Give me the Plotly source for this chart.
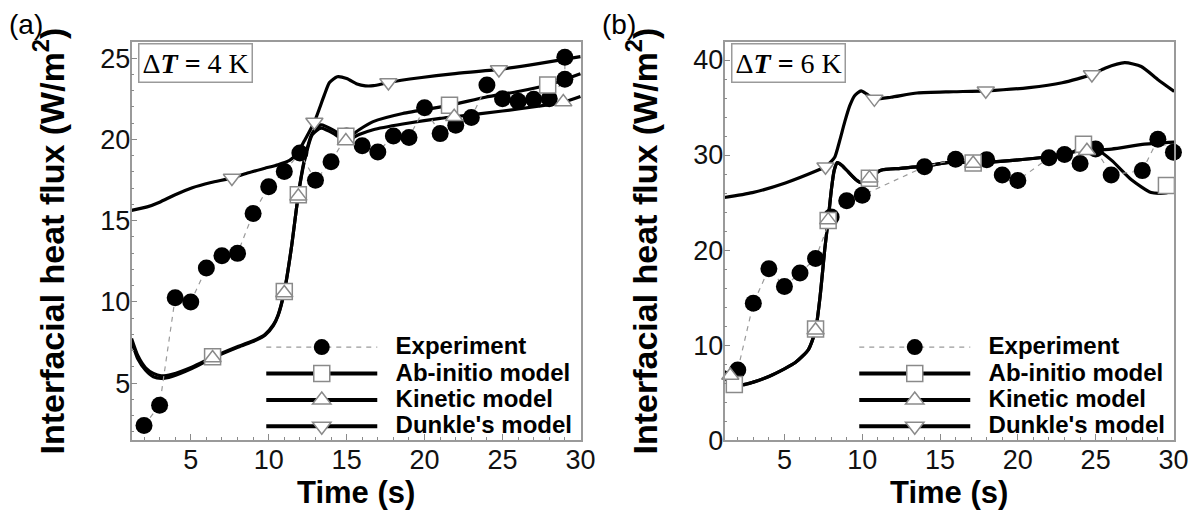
import plotly.graph_objects as go

W, H = 1198, 516

# ---------------- Panel (a): ΔT = 4 K ----------------
a_exp_t = [2, 3, 4, 5, 6, 7, 8, 9, 10, 11, 12, 13, 14, 15, 16, 17, 18, 19, 20,
           21, 22, 23, 24, 25, 26, 27, 28, 29, 29]
a_exp_q = [2.39, 3.64, 10.26, 10.0, 12.09, 12.85, 12.99, 15.44, 17.09, 18.03,
           19.17, 17.49, 18.63, 20.22, 19.62, 19.23, 20.22, 20.12, 21.95, 20.36,
           20.88, 21.35, 23.35, 22.51, 22.35, 22.47, 22.51, 23.71, 25.06]

a_ab_t = [1.2, 1.6, 2.1, 2.6, 3.1, 3.8, 5.1, 6.4, 8.06, 9.2, 9.76, 10.3, 10.6,
          11.0, 11.45, 11.9, 12.3, 12.8, 13.35, 14.2, 14.9, 15.3, 15.8, 16.7,
          18.6, 21.6, 23.9, 26.0, 27.9, 30.0]
a_ab_q = [7.75, 6.7, 5.95, 5.6, 5.45, 5.55, 6.0, 6.6, 7.27, 7.7, 8.0, 8.6, 9.2,
          10.65, 13.3, 16.6, 18.8, 20.4, 20.9, 20.55, 20.1, 20.25, 20.6, 21.1,
          21.6, 22.1, 22.6, 22.95, 23.35, 24.05]
a_ab_mt = [6.4, 11.0, 11.9, 14.95, 21.6, 27.9]
a_ab_mq = [6.62, 10.65, 16.6, 20.2, 22.1, 23.35]

a_kin_t = [1.2, 1.6, 2.1, 2.6, 3.1, 3.8, 5.1, 6.4, 8.06, 9.2, 9.76, 10.3, 10.6,
           11.0, 11.45, 11.9, 12.3, 12.8, 13.35, 14.2, 14.9, 15.3, 15.8, 16.7,
           18.6, 21.0, 21.9, 25.0, 27.3, 28.9, 30.0]
a_kin_q = [7.6, 6.5, 5.8, 5.4, 5.3, 5.42, 5.92, 6.55, 7.22, 7.65, 7.95, 8.55,
           9.15, 10.6, 13.3, 16.6, 18.7, 20.3, 20.7, 20.35, 19.9, 20.05, 20.3,
           20.6, 20.95, 21.3, 21.4, 21.75, 22.05, 22.3, 22.65]
a_kin_mt = [6.4, 11.0, 11.9, 14.95, 21.9, 28.9]
a_kin_mq = [6.55, 10.55, 16.5, 19.9, 21.4, 22.3]

a_dun_t = [1.2, 2.2, 3.0, 4.0, 5.1, 6.3, 7.64, 8.7, 9.76, 10.6, 11.34, 11.8,
           12.29, 12.93, 13.56, 13.9, 14.4, 15.0, 15.67, 16.2, 16.73, 17.68,
           19.69, 21.8, 24.77, 27.3, 30.0]
a_dun_q = [15.64, 15.85, 16.14, 16.6, 17.03, 17.35, 17.63, 17.95, 18.23, 18.45,
           18.72, 19.1, 19.92, 21.08, 22.71, 23.5, 23.86, 23.75, 23.41, 23.3,
           23.31, 23.51, 23.8, 24.04, 24.31, 24.67, 25.1]
a_dun_mt = [7.64, 12.93, 17.68, 24.77]
a_dun_mq = [17.63, 21.08, 23.51, 24.31]

# ---------------- Panel (b): ΔT = 6 K ----------------
b_exp_t = [2, 3, 4, 5, 6, 7, 8, 9, 10, 14, 16, 18, 19, 20, 22, 23, 24, 25, 26,
           28, 29, 30]
b_exp_q = [7.38, 14.39, 18.04, 16.16, 17.59, 19.12, 23.48, 25.19, 25.76, 28.76,
           29.55, 29.5, 27.91, 27.33, 29.71, 30.05, 29.1, 30.63, 27.91, 28.36,
           31.65, 30.3]

b_ab_t = [1.15, 1.78, 2.3, 3.0, 4.0, 5.0, 5.7, 6.54, 7.0, 7.29, 7.6, 7.81, 8.02,
          8.2, 8.4, 8.7, 9.09, 9.6, 9.93, 10.46, 11.2, 12.47, 13.96, 15.86, 17.13,
          19.67, 21.79, 23.5, 24.2, 25.07, 26.03, 27.3, 28.57, 29.5, 30.05]
b_ab_q = [6.5, 5.9, 5.8, 6.1, 6.7, 7.5, 8.16, 9.52, 11.56, 15.1, 20.2, 23.15,
          26.4, 28.4, 29.2, 28.9, 28.25, 27.4, 27.1, 27.6, 28.4, 28.6, 28.83,
          29.27, 29.2, 29.44, 29.79, 30.3, 30.9, 30.6, 29.44, 27.4, 26.05, 26.0,
          26.5]
b_ab_mt = [1.78, 7.0, 7.81, 10.46, 17.13, 24.22, 29.55]
b_ab_mq = [5.86, 11.7, 23.1, 27.57, 29.17, 31.14, 26.8]

b_kin_t = [1.15, 1.52, 2.3, 3.0, 4.0, 5.0, 5.7, 6.54, 7.0, 7.29, 7.6, 7.81, 8.02,
           8.2, 8.4, 8.7, 9.09, 9.6, 9.93, 10.46, 11.2, 12.47, 13.96, 15.86,
           17.13, 19.67, 21.79, 23.9, 24.44, 26.03, 28.15, 30.05]
b_kin_q = [7.2, 6.8, 5.85, 6.1, 6.7, 7.5, 8.16, 9.52, 11.56, 15.1, 20.2, 23.15,
           26.4, 28.4, 29.2, 28.9, 28.25, 27.4, 27.1, 27.6, 28.4, 28.6, 28.83,
           29.27, 29.2, 29.44, 29.79, 30.4, 30.46, 30.63, 31.14, 31.35]
b_kin_mt = [1.52, 7.0, 7.81, 10.46, 17.13, 24.44]
b_kin_mq = [6.8, 11.56, 23.15, 27.57, 29.1, 30.46]

b_dun_t = [1.14, 2.94, 5.06, 7.18, 7.64, 8.0, 8.24, 8.55, 8.88, 9.2, 9.51, 9.93,
           10.3, 10.78, 11.84, 13.53, 15.86, 17.94, 20.73, 22.85, 24.76, 25.6,
           26.87, 27.93, 28.99, 30.05]
b_dun_q = [25.53, 26.04, 27.06, 28.42, 28.76, 29.3, 29.79, 31.5, 33.52, 35.2,
           36.25, 36.76, 36.4, 35.91, 36.08, 36.53, 36.66, 36.76, 37.1, 37.61,
           38.47, 39.14, 39.72, 39.32, 37.96, 36.7]
b_dun_mt = [7.64, 10.78, 17.94, 24.76]
b_dun_mq = [28.76, 35.91, 36.76, 38.47]

series_names = ["Experiment", "Ab-initio model", "Kinetic model", "Dunkle's model"]
panel_labels = ["(a)", "(b)"]
delta_t_labels = ["4", "6"]
x_tick_labels = ["5", "10", "15", "20", "25", "30"]

SANS = "Liberation Sans, Arial, sans-serif"
SERIF = "Liberation Serif, Times New Roman, serif"


def px_x(p):
    return p / W


def px_y(p):
    return 1 - p / H


panels = [
    dict(exp=(a_exp_t, a_exp_q),
         models=[(a_ab_t, a_ab_q, a_ab_mt, a_ab_mq, "square"),
                 (a_kin_t, a_kin_q, a_kin_mt, a_kin_mq, "triangle-up"),
                 (a_dun_t, a_dun_q, a_dun_mt, a_dun_mq, "triangle-down")],
         left=125, right=580, xr=[1.2, 30.05], yr=[1.5, 26.0], ydt=5, yminor=1),
    dict(exp=(b_exp_t, b_exp_q),
         models=[(b_ab_t, b_ab_q, b_ab_mt, b_ab_mq, "square"),
                 (b_kin_t, b_kin_q, b_kin_mt, b_kin_mq, "triangle-up"),
                 (b_dun_t, b_dun_q, b_dun_mt, b_dun_mq, "triangle-down")],
         left=725, right=1180, xr=[1.15, 30.05], yr=[0, 41.9], ydt=10, yminor=2),
]

TOP, BOT = 35, 445
fig = go.Figure()
annotations = []
marker_size = {"square": 16, "triangle-up": 15, "triangle-down": 15}


def legend_name(s):
    return '<span style="font-size:24px">\u00a0\u00a0' + s + '</span>'


for i, p in enumerate(panels):
    xa = "x" if i == 0 else "x2"
    ya = "y" if i == 0 else "y2"
    lg = "legend" if i == 0 else "legend2"
    # model lines
    for (t, q, mt, mq, sym) in p["models"]:
        fig.add_trace(go.Scatter(x=t, y=q, mode="lines", xaxis=xa, yaxis=ya,
                                 line=dict(color="black", width=3.2, shape="spline",
                                           smoothing=0.6),
                                 showlegend=False, hoverinfo="skip"))
    # experiment
    et, eq = p["exp"]
    fig.add_trace(go.Scatter(
        x=et, y=eq, mode="lines+markers", xaxis=xa, yaxis=ya, legend=lg,
        name=legend_name(series_names[0]),
        line=dict(color="#9a9a9a", width=1.2, dash="5px,5px"),
        marker=dict(symbol="circle", size=17, color="black",
                    line=dict(width=0)),
        cliponaxis=False))
    # model markers
    for (t, q, mt, mq, sym) in p["models"]:
        fig.add_trace(go.Scatter(
            x=mt, y=mq, mode="markers", xaxis=xa, yaxis=ya, showlegend=False,
            marker=dict(symbol=sym, size=marker_size[sym], color="white",
                        line=dict(color="#8a8a8a", width=1.5)),
            cliponaxis=False))
    # legend-only entries for models
    for k, (t, q, mt, mq, sym) in enumerate(p["models"]):
        fig.add_trace(go.Scatter(
            x=[None], y=[None], mode="lines+markers", xaxis=xa, yaxis=ya, legend=lg,
            name=legend_name(series_names[k + 1]),
            line=dict(color="black", width=4),
            marker=dict(symbol=sym, size=16, color="white",
                        line=dict(color="#8a8a8a", width=1.5))))

    axis_common = dict(showgrid=False, zeroline=False, showline=True,
                       linecolor="#9a9a9a", linewidth=1.5, mirror=True,
                       ticks="inside", ticklen=6, tickwidth=1, tickcolor="#8a8a8a",
                       tickfont=dict(family=SANS, size=27, color="#111"))
    dom_x = [px_x(p["left"]), px_x(p["right"])]
    dom_y = [px_y(BOT), px_y(TOP)]
    fig.layout["xaxis" if i == 0 else "xaxis2"] = dict(
        axis_common, domain=dom_x, range=p["xr"], tickmode="array",
        tickvals=[int(v) for v in x_tick_labels], ticktext=x_tick_labels,
        ticklabelstandoff=-5,
        minor=dict(dtick=1, tick0=0, ticks="inside", ticklen=3, tickcolor="#8a8a8a"),
        anchor=ya)
    fig.layout["yaxis" if i == 0 else "yaxis2"] = dict(
        axis_common, domain=dom_y, range=p["yr"], dtick=p["ydt"], tick0=0,
        ticklabelstandoff=-6,
        minor=dict(dtick=p["yminor"], tick0=0, ticks="inside", ticklen=3,
                   tickcolor="#8a8a8a"),
        anchor=xa)

    fig.layout[lg] = dict(
        x=px_x(p["right"] - 4), xanchor="right", y=px_y(450), yanchor="bottom",
        bgcolor="rgba(0,0,0,0)", borderwidth=0, itemwidth=111,
        font=dict(family=SANS, size=18, color="black", weight="bold"),
        traceorder="normal", tracegroupgap=0)

    # titles
    annotations.append(dict(text="<b>Interfacial heat flux (W/m<sup>2</sup>)</b>",
                            x=px_x(p["left"] - 84), y=px_y((TOP + BOT) / 2),
                            xref="paper", yref="paper", textangle=-90,
                            showarrow=False, xanchor="center", yanchor="middle",
                            font=dict(family=SANS, size=34, color="black")))
    annotations.append(dict(text="<b>Time (s)</b>",
                            x=px_x((p["left"] + p["right"]) / 2), y=px_y(499),
                            xref="paper", yref="paper", showarrow=False,
                            xanchor="center", yanchor="middle",
                            font=dict(family=SANS, size=31, color="black")))
    annotations.append(dict(text=panel_labels[i], x=px_x(p["left"] - 126),
                            y=px_y(17), xref="paper", yref="paper",
                            showarrow=False, xanchor="left", yanchor="middle",
                            font=dict(family=SANS, size=28, color="black")))
    annotations.append(dict(text="Δ<b><i>T</i></b> <b>=</b> " + delta_t_labels[i] + " K",
                            x=px_x(p["left"] + 7), y=px_y(36), xref="paper",
                            yref="paper", showarrow=False, xanchor="left",
                            yanchor="top", bgcolor="white", bordercolor="#9a9a9a",
                            borderwidth=1.5, borderpad=3,
                            font=dict(family=SERIF, size=28, color="black")))

fig.update_layout(width=W, height=H, margin=dict(l=0, r=0, t=0, b=0),
                  paper_bgcolor="white", plot_bgcolor="white",
                  annotations=annotations, showlegend=True)

fig.write_html("out.html")
